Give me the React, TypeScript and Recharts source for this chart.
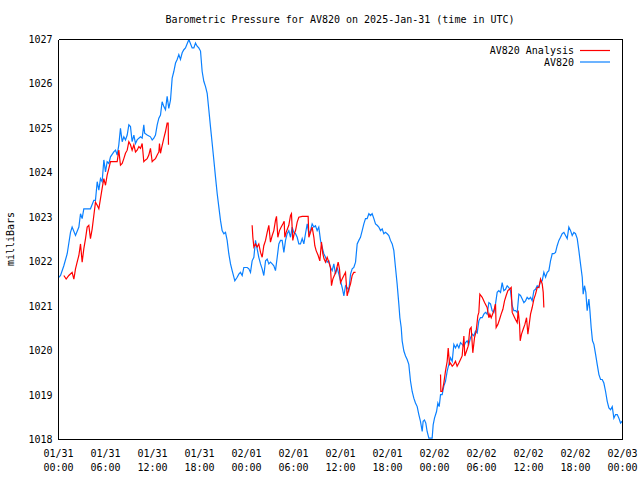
import React from 'react';
import { LineChart, Line, XAxis, YAxis } from 'recharts';

// Observed pressure (AV820), hours since 2025-01-31 00:00 UTC
const obsHours = [
  0.05, 0.26, 0.68, 1.11, 1.53, 1.74, 2.17, 2.6, 2.81, 3.02, 3.23, 4.08, 4.51, 4.72, 4.94, 5.15, 5.36, 5.57, 5.79, 6.0,
  6.21, 6.43, 6.64, 7.06, 7.28, 7.49, 7.7, 7.91, 8.13, 8.34, 8.55, 8.77, 8.98, 9.19, 9.4, 9.62, 9.83, 10.04, 10.26, 10.47,
  10.68, 10.89, 11.0, 11.32, 11.74, 11.96, 12.17, 12.38, 12.6, 12.81, 13.02, 13.23, 13.45, 13.66, 13.87, 14.08, 14.3, 14.51, 14.72, 14.94,
  15.15, 15.36, 15.57, 15.79, 16.0, 16.21, 16.64, 17.06, 17.28, 17.49, 17.7, 17.91, 18.13, 18.34, 18.55, 18.77, 18.98, 19.19, 19.4, 19.62,
  19.83, 20.04, 20.26, 20.47, 20.68, 20.89, 21.11, 21.32, 21.53, 21.74, 21.96, 22.17, 22.51, 22.81, 23.02, 23.23, 23.45, 23.66, 24.09, 24.3,
  24.51, 24.72, 24.94, 25.15, 25.36, 25.57, 25.79, 26.0, 26.21, 26.43, 26.64, 26.85, 27.06, 27.28, 27.49, 27.7, 27.92, 28.13, 28.34, 28.55,
  28.77, 28.98, 29.19, 29.4, 29.62, 29.83, 30.04, 30.26, 30.47, 30.68, 30.89, 31.11, 31.32, 31.53, 31.75, 31.96, 32.17, 32.38, 32.6, 32.81,
  33.02, 33.23, 33.45, 33.66, 33.87, 34.09, 34.3, 34.51, 34.72, 34.94, 35.15, 35.36, 35.57, 35.79, 36.0, 36.21, 36.43, 36.64, 36.85, 37.06,
  37.28, 37.49, 37.7, 37.92, 38.13, 38.34, 38.55, 38.77, 38.98, 39.19, 39.4, 39.62, 39.83, 40.04, 40.26, 40.47, 40.68, 40.89, 41.11, 41.32,
  41.53, 41.74, 41.96, 42.17, 42.38, 42.6, 42.81, 43.02, 43.23, 43.45, 43.58, 43.75, 43.87, 44.09, 44.3, 44.51, 44.72, 44.94, 45.15, 45.36,
  45.57, 45.79, 46.0, 46.21, 46.43, 46.55, 46.72, 46.89, 47.06, 47.28, 47.7, 47.83, 48.0, 48.26, 48.43, 48.6, 48.77, 48.98, 49.19, 49.4,
  49.62, 49.83, 50.04, 50.26, 50.47, 50.68, 50.89, 51.11, 51.32, 51.53, 51.75, 51.96, 52.17, 52.38, 52.6, 52.81, 53.02, 53.23, 53.45, 53.66,
  53.87, 54.09, 54.3, 54.51, 54.72, 54.94, 55.15, 55.36, 55.58, 55.79, 56.0, 56.21, 56.43, 56.64, 56.85, 57.07, 57.28, 57.49, 57.7, 57.92,
  58.13, 58.34, 58.56, 58.77, 58.98, 59.2, 59.41, 59.62, 59.83, 60.05, 60.26, 60.47, 60.69, 60.9, 61.11, 61.32, 61.54, 61.75, 61.96, 62.18,
  62.39, 62.6, 62.81, 63.03, 63.24, 63.45, 63.66, 63.88, 64.09, 64.3, 64.52, 64.73, 64.94, 65.15, 65.37, 65.58, 65.79, 66.0, 66.22, 66.43,
  66.64, 66.86, 66.98, 67.15, 67.32, 67.49, 67.71, 67.84, 68.0, 68.17, 68.35, 68.56, 68.77, 68.99, 69.2, 69.41, 69.62, 69.84, 70.05, 70.26,
  70.48, 70.69, 70.9, 71.11, 71.33, 71.54, 71.75, 71.96,
];
const obsPressure = [
  1021.65, 1021.69, 1021.91, 1022.18, 1022.66, 1022.78, 1022.59, 1022.78, 1023.08, 1022.97, 1023.19, 1023.19, 1023.38, 1023.38, 1023.80, 1023.61, 1023.87, 1023.80, 1024.29, 1024.02,
  1024.25, 1024.21, 1024.36, 1024.47, 1024.51, 1024.40, 1024.63, 1025.00, 1024.70, 1024.81, 1024.74, 1024.85, 1025.08, 1025.04, 1024.70, 1024.85, 1024.66, 1024.74, 1024.78, 1024.81,
  1024.78, 1025.08, 1024.89, 1024.85, 1024.81, 1024.74, 1024.78, 1024.85, 1025.08, 1025.23, 1025.30, 1025.60, 1025.49, 1025.42, 1025.72, 1025.45, 1025.64, 1026.13, 1026.28, 1026.47,
  1026.55, 1026.66, 1026.55, 1026.70, 1026.77, 1026.81, 1027.00, 1026.81, 1026.81, 1026.92, 1026.85, 1026.81, 1026.74, 1026.28, 1026.06, 1025.94, 1025.79, 1025.42, 1025.04, 1024.66,
  1024.29, 1023.91, 1023.53, 1023.23, 1022.93, 1022.70, 1022.63, 1022.66, 1022.48, 1022.18, 1021.95, 1021.80, 1021.57, 1021.65, 1021.72, 1021.76, 1021.69, 1021.87, 1021.87, 1021.84,
  1021.76, 1022.02, 1022.10, 1022.48, 1022.29, 1022.10, 1021.95, 1021.84, 1021.69, 1022.02, 1022.06, 1021.95, 1021.99, 1021.95, 1021.91, 1021.80, 1022.10, 1022.40, 1022.48, 1022.48,
  1022.21, 1022.48, 1022.63, 1022.70, 1022.55, 1022.78, 1022.66, 1022.63, 1022.55, 1022.40, 1022.40, 1022.52, 1022.40, 1022.63, 1022.85, 1022.63, 1022.70, 1022.85, 1022.78, 1022.81,
  1022.70, 1022.78, 1022.48, 1022.33, 1022.18, 1022.10, 1021.99, 1022.02, 1021.87, 1021.80, 1021.95, 1021.72, 1021.87, 1021.72, 1021.57, 1021.42, 1021.23, 1021.46, 1021.42, 1021.35,
  1021.72, 1021.84, 1021.87, 1021.99, 1022.40, 1022.48, 1022.55, 1022.70, 1022.85, 1022.97, 1022.97, 1023.08, 1023.04, 1023.08, 1022.97, 1022.85, 1022.82, 1022.78, 1022.70, 1022.74,
  1022.63, 1022.66, 1022.63, 1022.59, 1022.48, 1022.40, 1022.25, 1021.87, 1021.50, 1021.04, 1020.74, 1020.52, 1020.22, 1019.99, 1019.88, 1019.80, 1019.69, 1019.31, 1019.08, 1018.93,
  1018.82, 1018.74, 1018.56, 1018.41, 1018.18, 1018.41, 1018.44, 1018.37, 1018.18, 1018.03, 1018.03, 1018.33, 1018.48, 1018.63, 1018.82, 1018.74, 1019.01, 1019.01, 1019.20, 1019.31,
  1019.54, 1019.69, 1019.84, 1019.76, 1020.14, 1020.06, 1020.14, 1020.06, 1020.18, 1020.14, 1020.10, 1020.18, 1020.22, 1020.14, 1020.29, 1020.37, 1020.33, 1020.44, 1020.40, 1020.67,
  1020.74, 1020.74, 1020.82, 1020.86, 1020.82, 1021.08, 1021.05, 1020.90, 1020.86, 1021.05, 1021.31, 1021.35, 1021.31, 1021.53, 1021.35, 1021.38, 1021.46, 1021.42, 1021.35, 1021.01,
  1020.90, 1020.90, 1020.86, 1021.27, 1021.24, 1021.16, 1021.08, 1021.12, 1021.20, 1021.16, 1021.20, 1021.12, 1021.35, 1021.38, 1021.46, 1021.42, 1021.57, 1021.57, 1021.76, 1021.65,
  1021.76, 1021.80, 1022.02, 1022.18, 1022.18, 1022.21, 1022.36, 1022.48, 1022.55, 1022.63, 1022.66, 1022.59, 1022.52, 1022.78, 1022.70, 1022.59, 1022.66, 1022.63, 1022.52, 1022.25,
  1021.95, 1021.65, 1021.27, 1021.46, 1021.31, 1020.90, 1021.16, 1020.90, 1020.52, 1020.22, 1020.14, 1019.92, 1019.69, 1019.46, 1019.35, 1019.35, 1019.27, 1019.08, 1018.86, 1018.71,
  1018.67, 1018.74, 1018.48, 1018.56, 1018.56, 1018.48, 1018.37, 1018.41,
];

// Analysis pressure (AV820 Analysis), three separate runs
const ana1Hours = [
  0.68, 0.98, 1.32, 1.74, 1.96, 2.17, 2.38, 2.6, 2.81, 3.02, 3.23, 3.45, 3.66, 3.87, 4.08, 4.3, 4.51, 4.72, 4.94, 5.15,
  5.36, 5.57, 5.79, 6.0, 6.21, 6.43, 6.64, 7.49, 7.7, 7.91, 8.13, 8.34, 8.55, 8.77, 8.98, 9.19, 9.4, 9.62, 9.83, 10.04,
  10.26, 10.47, 10.68, 10.89, 11.11, 11.32, 11.53, 11.74, 11.96, 12.17, 12.38, 12.6, 12.81, 12.89, 13.02, 13.15, 13.45, 13.66, 13.87, 14.0,
  14.04,
];
const ana1Pressure = [
  1021.69, 1021.61, 1021.69, 1021.76, 1021.61, 1021.84, 1021.99, 1022.14, 1022.40, 1021.99, 1022.29, 1022.52, 1022.78, 1022.82, 1022.52, 1022.74, 1023.04, 1023.34, 1023.27, 1023.19,
  1023.42, 1023.65, 1023.87, 1023.72, 1023.95, 1024.10, 1024.25, 1024.25, 1024.51, 1024.17, 1024.21, 1024.32, 1024.44, 1024.51, 1024.70, 1024.63, 1024.51, 1024.63, 1024.47, 1024.51,
  1024.59, 1024.55, 1024.66, 1024.25, 1024.29, 1024.32, 1024.40, 1024.55, 1024.25, 1024.29, 1024.32, 1024.40, 1024.47, 1024.66, 1024.44, 1024.55, 1024.78, 1024.93, 1025.12, 1025.12,
  1024.63,
];
const ana2Hours = [
  24.72, 24.81, 24.94, 25.15, 25.36, 25.57, 25.79, 26.0, 26.21, 26.43, 26.64, 26.85, 27.06, 27.28, 27.49, 27.7, 27.83, 28.0, 28.21, 28.43,
  28.64, 28.81, 28.89, 29.06, 29.23, 29.4, 29.62, 29.74, 29.91, 30.09, 30.26, 30.47, 30.68, 31.11, 31.87, 31.96, 32.17, 32.38, 32.6, 32.72,
  32.89, 33.15, 33.36, 33.57, 33.74, 33.91, 34.09, 34.3, 34.51, 34.72, 34.85, 35.02, 35.28, 35.45, 35.7, 35.87, 36.0, 36.21, 36.43, 36.64,
  36.85, 37.06, 37.28, 37.49, 37.7, 37.92,
];
const ana2Pressure = [
  1022.82, 1022.55, 1022.33, 1022.40, 1022.33, 1022.40, 1022.21, 1022.10, 1022.36, 1022.48, 1022.66, 1022.82, 1022.44, 1022.59, 1022.70, 1022.93, 1023.02, 1022.55, 1022.70, 1022.78,
  1022.85, 1022.91, 1022.55, 1022.66, 1022.74, 1022.82, 1023.04, 1023.08, 1022.48, 1022.63, 1022.70, 1022.89, 1023.00, 1023.02, 1023.02, 1022.55, 1022.66, 1022.78, 1022.55, 1022.36,
  1022.25, 1022.14, 1022.02, 1022.44, 1022.18, 1022.06, 1021.99, 1022.10, 1021.99, 1021.87, 1021.46, 1021.61, 1021.72, 1021.80, 1021.99, 1021.84, 1021.53, 1021.61, 1021.69, 1021.76,
  1021.23, 1021.38, 1021.50, 1021.69, 1021.76, 1021.76,
];
const ana3Hours = [
  48.77, 48.81, 48.98, 49.19, 49.4, 49.62, 49.75, 49.92, 50.04, 50.26, 50.47, 50.68, 50.89, 51.11, 51.32, 51.53, 51.75, 51.87, 52.09, 52.3,
  52.51, 52.68, 52.89, 53.11, 53.32, 53.53, 53.66, 53.79, 54.09, 54.39, 54.72, 54.94, 55.07, 55.24, 55.41, 55.58, 55.79, 55.87, 56.09, 56.3,
  56.51, 56.73, 56.94, 57.15, 57.37, 57.58, 57.79, 57.92, 58.13, 58.34, 58.56, 58.68, 58.86, 58.94, 59.11, 59.32, 59.54, 59.75, 59.92, 60.09,
  60.26, 60.47, 60.69, 60.9, 61.11, 61.32, 61.54, 61.75, 61.88, 61.96,
];
const ana3Pressure = [
  1019.46, 1019.08, 1019.08, 1019.27, 1019.54, 1019.76, 1020.06, 1019.69, 1019.72, 1019.65, 1019.69, 1019.76, 1019.65, 1019.72, 1019.80, 1019.88, 1020.33, 1019.88, 1019.99, 1020.10,
  1020.48, 1020.52, 1019.95, 1020.29, 1020.44, 1020.78, 1020.86, 1021.27, 1021.20, 1021.08, 1020.97, 1020.74, 1020.82, 1020.74, 1020.82, 1020.90, 1021.05, 1020.52, 1020.59, 1020.70,
  1020.82, 1020.93, 1021.12, 1021.24, 1021.35, 1021.38, 1021.42, 1020.86, 1020.78, 1020.70, 1020.63, 1020.90, 1020.59, 1020.22, 1020.37, 1020.48, 1020.59, 1020.74, 1020.37, 1020.59,
  1020.82, 1020.97, 1021.16, 1021.27, 1021.42, 1021.42, 1021.61, 1021.50, 1021.31, 1020.97,
];

const majorTickHours = [0, 6, 12, 18, 24, 30, 36, 42, 48, 54, 60, 66, 72];
const minorTickHours = [0, 2, 4, 6, 8, 10, 12, 14, 16, 18, 20, 22, 24, 26, 28, 30, 32, 34, 36, 38, 40, 42, 44, 46, 48, 50, 52, 54, 56, 58, 60, 62, 64, 66, 68, 70, 72];
const tickDates = ['01/31', '01/31', '01/31', '01/31', '02/01', '02/01', '02/01', '02/01', '02/02', '02/02', '02/02', '02/02', '02/03'];
const tickTimes = ['00:00', '06:00', '12:00', '18:00', '00:00', '06:00', '12:00', '18:00', '00:00', '06:00', '12:00', '18:00', '00:00'];
const pressureTicks = [1018, 1019, 1020, 1021, 1022, 1023, 1024, 1025, 1026, 1027];

const titleText = 'Barometric Pressure for AV820 on 2025-Jan-31 (time in UTC)';
const yLabelText = 'milliBars';
const seriesNames = ['AV820 Analysis', 'AV820'];
const seriesColors = ['#ff0000', '#0a80ff'];

const FONT = '"DejaVu Sans Mono", "Liberation Mono", monospace';

const zip = (hs: number[], ps: number[]) => hs.map((h, i) => ({ h, p: ps[i] }));
const obsData = zip(obsHours, obsPressure);
const ana1Data = zip(ana1Hours, ana1Pressure);
const ana2Data = zip(ana2Hours, ana2Pressure);
const ana3Data = zip(ana3Hours, ana3Pressure);

const XTick = (props: any) => {
  const { x, y, payload } = props;
  const i = majorTickHours.indexOf(payload.value);
  return (
    <text x={x} y={y} textAnchor="middle" fontFamily={FONT} fontSize={10} fill="#000">
      <tspan x={x} dy={17}>{tickDates[i]}</tspan>
      <tspan x={x} dy={14}>{tickTimes[i]}</tspan>
    </text>
  );
};

const crisp = { stroke: '#000', strokeWidth: 1, shapeRendering: 'crispEdges' } as any;

export default function App() {
  return (
    <div style={{ position: 'absolute', left: 0, top: 0, width: 640, height: 480, background: '#fff' }}>
      <LineChart width={640} height={480} margin={{ top: 39.5, right: 17.5, bottom: 0.5, left: 0.5 }}>
        <XAxis
          xAxisId="main"
          type="number"
          dataKey="h"
          domain={[0, 72]}
          allowDataOverflow
          ticks={majorTickHours}
          interval={0}
          height={40}
          tickSize={0}
          tickMargin={0}
          tickLine={false}
          axisLine={crisp}
          tick={<XTick />}
        />
        <XAxis xAxisId="bMaj" orientation="bottom" mirror type="number" dataKey="h" domain={[0, 72]} allowDataOverflow
          ticks={majorTickHours} interval={0} height={1} tickSize={5} tick={false} axisLine={false} tickLine={crisp} />
        <XAxis xAxisId="bMin" orientation="bottom" mirror type="number" dataKey="h" domain={[0, 72]} allowDataOverflow
          ticks={minorTickHours} interval={0} height={1} tickSize={2} tick={false} axisLine={false} tickLine={crisp} />
        <XAxis xAxisId="tMaj" orientation="top" mirror type="number" dataKey="h" domain={[0, 72]} allowDataOverflow
          ticks={majorTickHours} interval={0} height={1} tickSize={5} tick={false} axisLine={crisp} tickLine={crisp} />
        <XAxis xAxisId="tMin" orientation="top" mirror type="number" dataKey="h" domain={[0, 72]} allowDataOverflow
          ticks={minorTickHours} interval={0} height={1} tickSize={2} tick={false} axisLine={false} tickLine={crisp} />
        <YAxis
          yAxisId="main"
          type="number"
          domain={[1018, 1027]}
          allowDataOverflow
          ticks={pressureTicks}
          interval={0}
          width={58}
          tickSize={0}
          tickMargin={6}
          tickLine={false}
          axisLine={crisp}
          tick={{ fontFamily: FONT, fontSize: 10, fill: '#000' }}
        />
        <YAxis yAxisId="lIn" orientation="left" mirror type="number" domain={[1018, 1027]} allowDataOverflow
          ticks={pressureTicks} interval={0} width={1} tickSize={5} tick={false} axisLine={false} tickLine={crisp} />
        <YAxis yAxisId="rIn" orientation="right" mirror type="number" domain={[1018, 1027]} allowDataOverflow
          ticks={pressureTicks} interval={0} width={1} tickSize={5} tick={false} axisLine={crisp} tickLine={crisp} />
        <Line xAxisId="main" yAxisId="main" data={obsData} dataKey="p" type="linear" stroke={seriesColors[1]} strokeWidth={1.2}
          dot={false} activeDot={false} isAnimationActive={false} />
        <Line xAxisId="main" yAxisId="main" data={ana1Data} dataKey="p" type="linear" stroke={seriesColors[0]} strokeWidth={1.2}
          dot={false} activeDot={false} isAnimationActive={false} />
        <Line xAxisId="main" yAxisId="main" data={ana2Data} dataKey="p" type="linear" stroke={seriesColors[0]} strokeWidth={1.2}
          dot={false} activeDot={false} isAnimationActive={false} />
        <Line xAxisId="main" yAxisId="main" data={ana3Data} dataKey="p" type="linear" stroke={seriesColors[0]} strokeWidth={1.2}
          dot={false} activeDot={false} isAnimationActive={false} />
      </LineChart>
      <svg width={640} height={480} style={{ position: 'absolute', left: 0, top: 0, pointerEvents: 'none' }}>
        <text x={340} y={22.5} textAnchor="middle" fontFamily={FONT} fontSize={10} fill="#000">{titleText}</text>
        <text x={14} y={239} textAnchor="middle" fontFamily={FONT} fontSize={10} fill="#000" transform="rotate(-90 14 239)">{yLabelText}</text>
        {seriesNames.map((name, i) => (
          <g key={name}>
            <text x={574} y={54 + i * 11.5} textAnchor="end" fontFamily={FONT} fontSize={10} fill="#000">{name}</text>
            <line x1={580} x2={610} y1={50.5 + i * 11.5} y2={50.5 + i * 11.5} stroke={seriesColors[i]} strokeWidth={1.2} />
          </g>
        ))}
      </svg>
    </div>
  );
}
